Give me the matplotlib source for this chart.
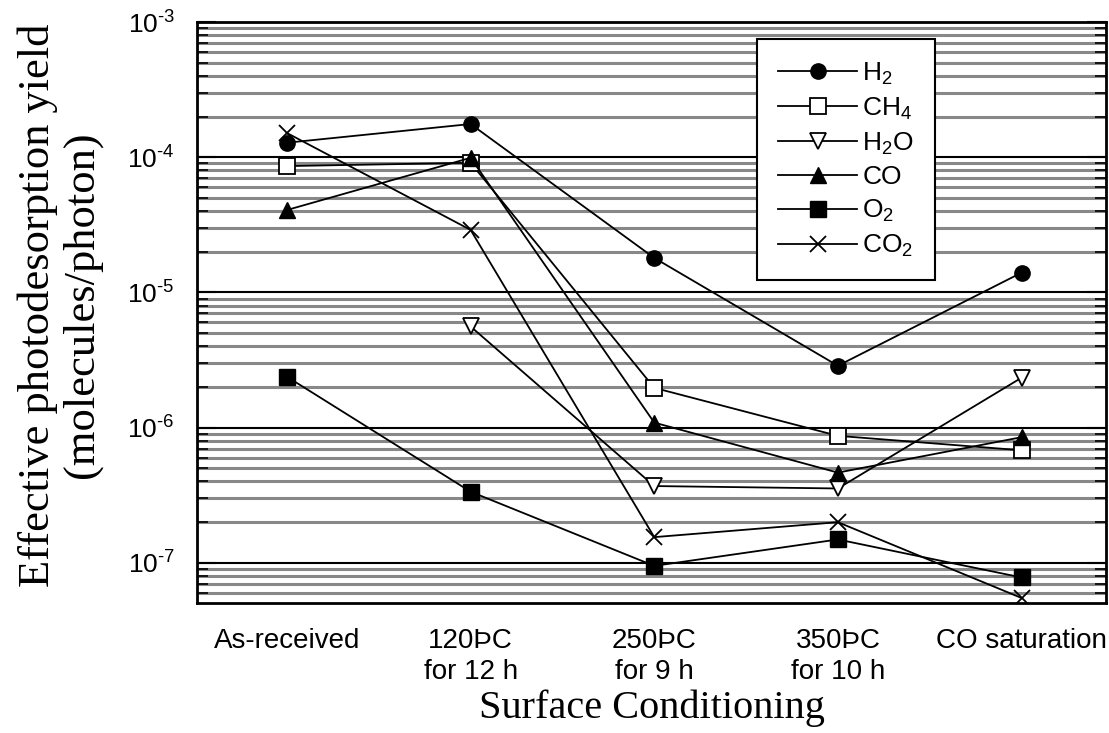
import matplotlib
matplotlib.use("Agg")
import matplotlib.pyplot as plt
from matplotlib.ticker import LogLocator, FuncFormatter
import math

plt.rcParams["font.family"] = ["Liberation Sans", "DejaVu Sans"]
plt.rcParams["mathtext.fontset"] = "custom"
plt.rcParams["mathtext.rm"] = "Liberation Sans"
plt.rcParams["mathtext.it"] = "Liberation Sans"

conditions = ["As-received", "120ÞC\nfor 12 h", "250ÞC\nfor 9 h", "350ÞC\nfor 10 h", "CO saturation"]
x_pos = [0, 1, 2, 3, 4]

h2 = [1.28e-4, 1.76e-4, 1.8e-5, 2.87e-6, 1.4e-5]
ch4 = [8.6e-5, 9.1e-5, 1.97e-6, 8.7e-7, 6.8e-7]
h2o_x = [1, 2, 3, 4]
h2o = [5.6e-6, 3.7e-7, 3.55e-7, 2.34e-6]
co = [4.07e-5, 9.9e-5, 1.09e-6, 4.65e-7, 8.5e-7]
o2 = [2.38e-6, 3.36e-7, 9.5e-8, 1.49e-7, 7.8e-8]
co2 = [1.51e-4, 2.9e-5, 1.55e-7, 2.0e-7, 5.5e-8]

fig = plt.figure(figsize=(11.09, 7.33), dpi=100)
ax = fig.add_axes([197 / 1109, 1 - 603 / 733, 909 / 1109, 581 / 733])

ms = 11
lw = 1.3
ax.plot(x_pos, h2, "-o", color="black", lw=lw, ms=ms, label="H$_2$", zorder=5)
ax.plot(x_pos, ch4, "-s", color="black", mfc="white", mew=1.3, lw=lw, ms=ms, label="CH$_4$", zorder=5)
ax.plot(h2o_x, h2o, "-v", color="black", mfc="white", mew=1.3, lw=lw, ms=ms + 1, label="H$_2$O", zorder=5)
ax.plot(x_pos, co, "-^", color="black", lw=lw, ms=ms, label="CO", zorder=5)
ax.plot(x_pos, o2, "-s", color="black", lw=lw, ms=ms, label="O$_2$", zorder=5)
ax.plot(x_pos, co2, "-x", color="black", mew=1.3, lw=lw, ms=ms + 1, label="CO$_2$", zorder=5)

ax.set_yscale("log")
ax.set_ylim(5.05e-8, 1e-3)
ax.set_xlim(-0.49, 4.46)

def pow_label(v, pos):
    e = int(round(math.log10(v)))
    return "10$^{\u2010%d}$" % abs(e)

ax.yaxis.set_major_locator(LogLocator(base=10, numticks=10))
ax.yaxis.set_major_formatter(FuncFormatter(pow_label))
ax.yaxis.set_minor_locator(LogLocator(base=10, subs=range(2, 10), numticks=20))
ax.yaxis.set_minor_formatter(plt.NullFormatter())
ax.grid(True, which="major", axis="y", color="black", lw=1.5, zorder=1)
ax.grid(True, which="minor", axis="y", color="#888888", lw=2.2, zorder=1)

ax.set_xticks(x_pos)
ax.set_xticklabels(conditions, fontsize=20, linespacing=1.25)
ax.tick_params(axis="x", length=0, pad=18)
ax.tick_params(axis="y", which="both", direction="in", right=True, labelsize=19, pad=16)
ax.tick_params(axis="y", which="major", length=14, width=1.5)
ax.tick_params(axis="y", which="minor", length=8, width=1.2)

for s in ax.spines.values():
    s.set_linewidth(2)

ax.set_ylabel("Effective photodesorption yield\n(molecules/photon)", fontsize=32,
              family="Liberation Serif", linespacing=1.12)
ax.yaxis.set_label_coords(-0.104, 0.513)
ax.set_xlabel("Surface Conditioning", fontsize=29, family="Liberation Serif")
ax.xaxis.set_label_coords(0.5, -0.149)

leg = ax.legend(loc="upper left", bbox_to_anchor=(0.616, 0.97), fontsize=19,
                frameon=True, fancybox=False, framealpha=1, edgecolor="black",
                handlelength=3.0, labelspacing=0.33, borderpad=0.8, handletextpad=0.2,
                borderaxespad=0)
leg.get_frame().set_linewidth(1.5)
leg.set_zorder(10)

fig.savefig("out.png", dpi=100)
